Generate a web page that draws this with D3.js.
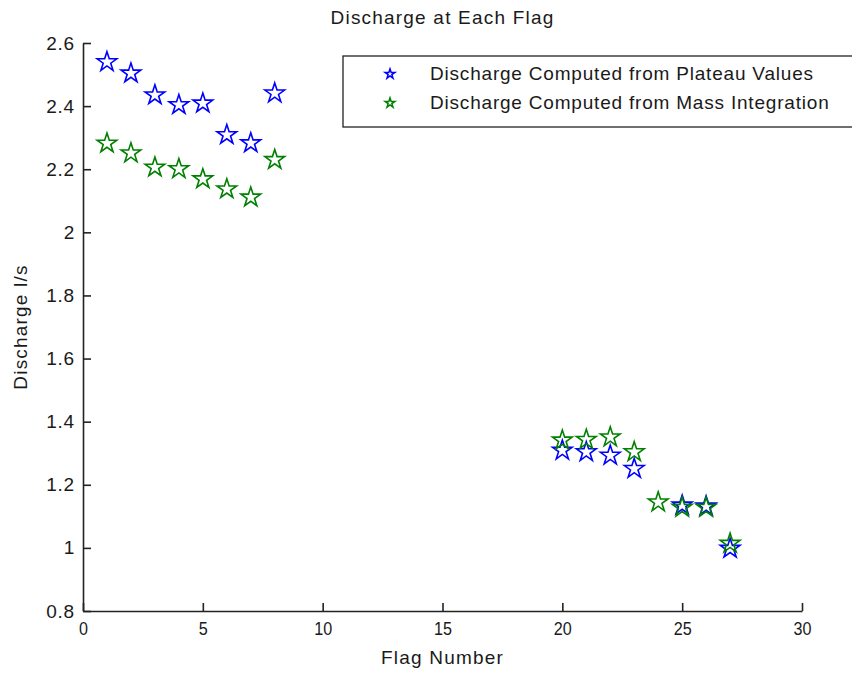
<!DOCTYPE html>
<html>
<head>
<meta charset="utf-8">
<script src="https://cdn.jsdelivr.net/npm/d3@7"></script>
<style>
  body { margin: 0; background: #fff; }
  svg text { font-family: "Liberation Sans", Arial, sans-serif; fill: #1a1a1a; }
</style>
</head>
<body>
<div id="chart"></div>
<script>
// flag numbers and discharge values
var plateauFlags = [1, 2, 3, 4, 5, 6, 7, 8, 20, 21, 22, 23, 25, 26, 27];
var plateauValues = [2.543, 2.507, 2.438, 2.407, 2.412, 2.312, 2.286, 2.444,
  1.312, 1.307, 1.296, 1.254, 1.138, 1.135, 1.001];

var massFlags = [1, 2, 3, 4, 5, 6, 7, 8, 20, 21, 22, 23, 24, 25, 26, 27];
var massValues = [2.285, 2.254, 2.209, 2.204, 2.172, 2.140, 2.114, 2.233,
  1.344, 1.346, 1.354, 1.307, 1.148, 1.131, 1.131, 1.017];

var xTicks = [0, 5, 10, 15, 20, 25, 30];
var yTicks = [0.8, 1, 1.2, 1.4, 1.6, 1.8, 2, 2.2, 2.4, 2.6];
var legendLabels = ["Discharge Computed from Plateau Values", "Discharge Computed from Mass Integration"];
var colors = ["#0000ff", "#008000"];

var width = 852, height = 675;
var margin = { left: 83, right: 50, top: 43, bottom: 64 };

var svg = d3.select("#chart").append("svg")
  .attr("width", width)
  .attr("height", height);

var x = d3.scaleLinear().domain([0, 30]).range([margin.left, width - margin.right]);
var y = d3.scaleLinear().domain([0.8, 2.6]).range([height - margin.bottom, margin.top]);

// axes, ticks point inward like matlab
var xAxis = svg.append("g")
  .attr("transform", "translate(0," + (height - margin.bottom) + ")")
  .call(d3.axisBottom(x).tickValues(xTicks).tickSizeInner(-8).tickSizeOuter(0).tickPadding(11));

var yAxis = svg.append("g")
  .attr("transform", "translate(" + margin.left + ",0)")
  .call(d3.axisLeft(y).tickValues(yTicks).tickSizeInner(-8).tickSizeOuter(0).tickPadding(8)
    .tickFormat(function (d) { return d3.format("")(+d.toFixed(1)); }));

svg.selectAll(".domain, .tick line").attr("stroke", "#222").attr("stroke-width", 1.6);
svg.selectAll(".tick text").style("font-size", "19px").attr("fill", "#1a1a1a");
yAxis.selectAll(".tick text").style("letter-spacing", "0.8px");
// condensed look of the x tick labels
xAxis.selectAll(".tick text").attr("transform", "scale(0.85,1)");

var labelStyle = function (sel) {
  sel.style("font-size", "19px").style("letter-spacing", "1.2px");
};

// titles
svg.append("text")
  .attr("x", (margin.left + width - margin.right) / 2)
  .attr("y", 24)
  .attr("text-anchor", "middle")
  .call(labelStyle)
  .text("Discharge at Each Flag");

svg.append("text")
  .attr("x", (margin.left + width - margin.right) / 2)
  .attr("y", 664)
  .attr("text-anchor", "middle")
  .call(labelStyle)
  .text("Flag Number");

svg.append("text")
  .attr("transform", "translate(27," + ((margin.top + height - margin.bottom) / 2) + ") rotate(-90)")
  .attr("text-anchor", "middle")
  .call(labelStyle)
  .text("Discharge l/s");

var star = d3.symbol().type(d3.symbolStar).size(120);
var smallStar = d3.symbol().type(d3.symbolStar).size(30);

function drawSeries(flags, values, color) {
  svg.append("g").selectAll("path")
    .data(flags.map(function (f, i) { return { f: f, v: values[i] }; }))
    .join("path")
    .attr("d", star)
    .attr("transform", function (d) { return "translate(" + x(d.f) + "," + (y(d.v) + 1) + ")"; })
    .attr("fill", "none")
    .attr("stroke", color)
    .attr("stroke-width", 1.6);
}

drawSeries(plateauFlags, plateauValues, colors[0]);
drawSeries(massFlags, massValues, colors[1]);

// legend
var legend = svg.append("g").attr("transform", "translate(343,56)");
legend.append("rect")
  .attr("width", 520).attr("height", 71)
  .attr("fill", "#fff").attr("stroke", "#222").attr("stroke-width", 1.3);

legendLabels.forEach(function (lab, i) {
  var row = legend.append("g").attr("transform", "translate(0," + (18 + i * 29) + ")");
  row.append("path")
    .attr("d", smallStar)
    .attr("transform", "translate(47,0)")
    .attr("fill", "none")
    .attr("stroke", colors[i])
    .attr("stroke-width", 1.5);
  row.append("text")
    .attr("x", 87)
    .attr("y", 6)
    .style("font-size", "19px")
    .style("letter-spacing", "0.8px")
    .text(lab);
});
</script>
</body>
</html>
